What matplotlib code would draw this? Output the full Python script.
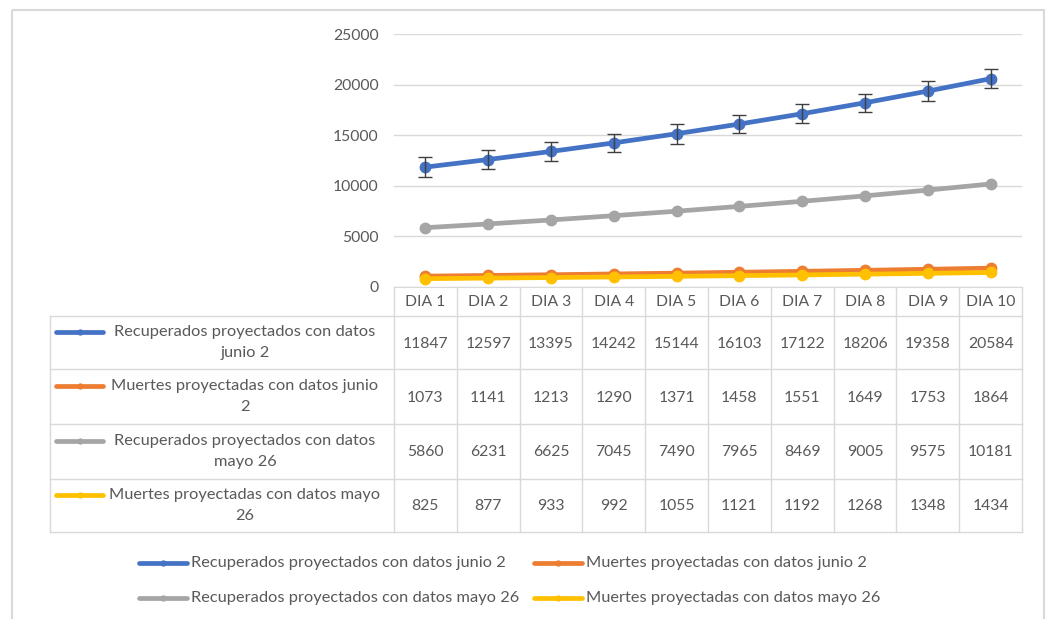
import matplotlib.pyplot as plt
from matplotlib.lines import Line2D
from matplotlib.patches import Rectangle
from matplotlib.transforms import blended_transform_factory

plt.rcParams['font.family'] = ['Lato', 'DejaVu Sans']

dias = ['DIA 1', 'DIA 2', 'DIA 3', 'DIA 4', 'DIA 5', 'DIA 6', 'DIA 7', 'DIA 8', 'DIA 9', 'DIA 10']
recup_jun2 = [11847, 12597, 13395, 14242, 15144, 16103, 17122, 18206, 19358, 20584]
muertes_jun2 = [1073, 1141, 1213, 1290, 1371, 1458, 1551, 1649, 1753, 1864]
recup_may26 = [5860, 6231, 6625, 7045, 7490, 7965, 8469, 9005, 9575, 10181]
muertes_may26 = [825, 877, 933, 992, 1055, 1121, 1192, 1268, 1348, 1434]
err_recup_jun2 = [970, 970, 950, 870, 970, 870, 950, 900, 970, 950]

nombres = ['Recuperados proyectados con datos junio 2',
           'Muertes proyectadas con datos junio 2',
           'Recuperados proyectados con datos mayo 26',
           'Muertes proyectadas con datos mayo 26']
etiquetas_tabla = ['Recuperados proyectados con datos\njunio 2',
                   'Muertes proyectadas con datos junio\n2',
                   'Recuperados proyectados con datos\nmayo 26',
                   'Muertes proyectadas con datos mayo\n26']
series = [recup_jun2, muertes_jun2, recup_may26, muertes_may26]
colores = ['#4472C4', '#ED7D31', '#A5A5A5', '#FFC000']

W, H = 1049, 619
txt = '#595959'
linea = '#D9D9D9'
fs = 11.3      # numbers / axis
fs_lab = 11.8  # long labels

fig = plt.figure(figsize=(W / 100, H / 100), dpi=100)

# overlay in pixel coordinates for table, legend and border
ov = fig.add_axes([0, 0, 1, 1], zorder=0)
ov.set_xlim(0, W)
ov.set_ylim(H, 0)
ov.axis('off')

ax = fig.add_axes([394 / W, 1 - 287 / H, (1022 - 394) / W, (287 - 34) / H], zorder=1)
ax.set_facecolor('none')
x = list(range(len(dias)))
ax.set_xlim(-0.5, len(dias) - 0.5)
ax.set_ylim(0, 25000)
ax.set_yticks([0, 5000, 10000, 15000, 20000, 25000])
ax.set_xticks([])
ax.tick_params(axis='y', length=0, pad=11, labelsize=fs, labelcolor=txt)
ax.grid(axis='y', color=linea, lw=1)
ax.set_axisbelow(True)
for s in ['left', 'right', 'top']:
    ax.spines[s].set_visible(False)
ax.spines['bottom'].set_color(linea)

for i, (vals, c) in enumerate(zip(series, colores)):
    ax.plot(x, vals, color=c, lw=3.4, marker='o', ms=7.5, solid_capstyle='round',
            zorder=3 + i, clip_on=False)
ax.errorbar(x, recup_jun2, yerr=err_recup_jun2, fmt='none', ecolor='#404040',
            elinewidth=1, capsize=5, capthick=1, zorder=8)

# data table
tr = blended_transform_factory(ax.transData, ov.transData)
filas = [287, 316, 369, 424, 479, 532]
for i in range(len(dias) + 1):
    ov.plot([i - 0.5, i - 0.5], [filas[0], filas[-1]], color=linea, lw=1, transform=tr)
for yy in filas[1:]:
    ov.plot([50, 1022], [yy, yy], color=linea, lw=1)
ov.plot([50, 50], [filas[1], filas[-1]], color=linea, lw=1)

for i, d in enumerate(dias):
    ov.text(i, (filas[0] + filas[1]) / 2 + 1, d, transform=tr, ha='center', va='center',
            fontsize=fs, color=txt)

for r, (lab, vals, c) in enumerate(zip(etiquetas_tabla, series, colores)):
    yc = (filas[r + 1] + filas[r + 2]) / 2
    ov.text(245, yc, lab, ha='center', va='center', multialignment='center',
            fontsize=fs_lab, color=txt, linespacing=1.55)
    ov.add_line(Line2D([56, 103], [yc - 11, yc - 11], color=c, lw=3.4,
                       solid_capstyle='round'))
    ov.add_line(Line2D([80], [yc - 11], color=c, marker='o', ms=3.5))
    for i, v in enumerate(vals):
        ov.text(i, yc + 1, str(v), transform=tr, ha='center', va='center',
                fontsize=fs, color=txt)

# legend
pos = [(139, 563), (534, 563), (139, 598), (534, 598)]
for (lx, ly), nombre, c in zip(pos, nombres, colores):
    ov.add_line(Line2D([lx, lx + 48], [ly, ly], color=c, lw=3.4, solid_capstyle='round'))
    ov.add_line(Line2D([lx + 24], [ly], color=c, marker='o', ms=3.5))
    ov.text(lx + 52, ly, nombre, ha='left', va='center', fontsize=fs_lab, color=txt)

ov.add_patch(Rectangle((12, 10), 1032, 640, fill=False, edgecolor=linea, lw=1.5))

fig.savefig('out.png', dpi=100)
